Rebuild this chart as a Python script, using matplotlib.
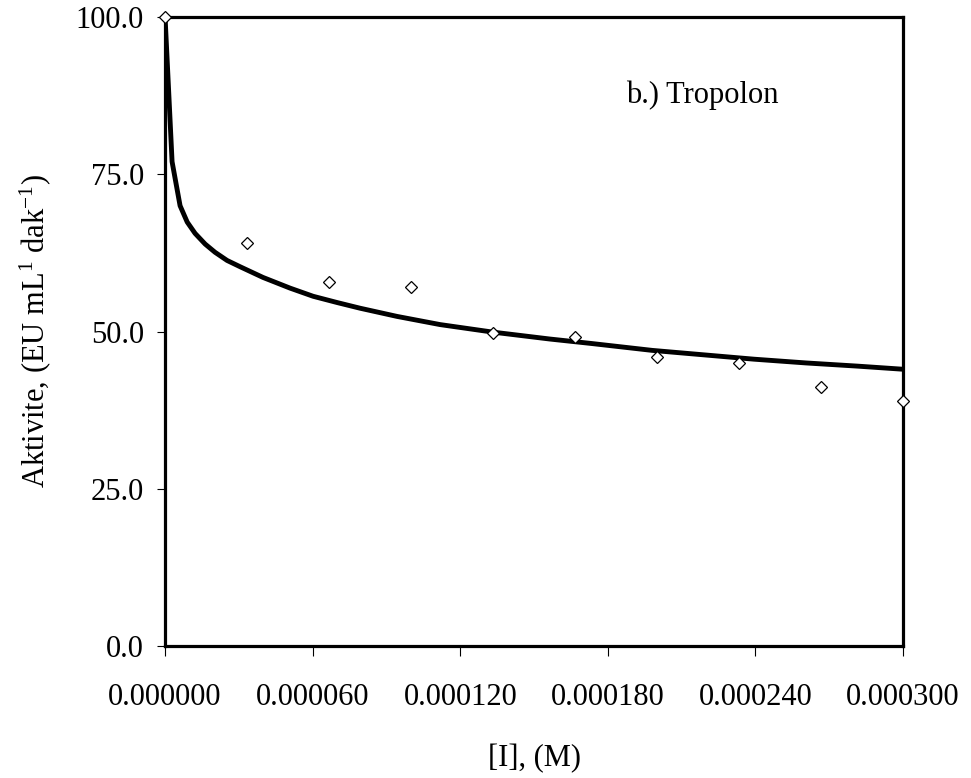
import matplotlib
matplotlib.use("Agg")
import matplotlib.pyplot as plt

plt.rcParams['font.family'] = ['Liberation Serif', 'DejaVu Serif']
plt.rcParams['mathtext.fontset'] = 'custom'
plt.rcParams['mathtext.rm'] = 'Liberation Serif'
plt.rcParams['mathtext.default'] = 'regular'

# measured points
conc = [0.0, 0.0000333, 0.0000667, 0.0001, 0.0001333, 0.0001667, 0.0002, 0.0002333, 0.0002667, 0.0003]
activity = [100.0, 64.1, 57.9, 57.1, 49.8, 49.1, 45.9, 45.0, 41.2, 39.0]

# fitted curve
fit_conc = [0.0, 0.00000285, 0.0000061, 0.000009, 0.0000122, 0.0000163, 0.0000203, 0.0000252,
            0.0000305, 0.0000398, 0.0000508, 0.0000602, 0.00007, 0.0000793, 0.0000943,
            0.0001118, 0.0001333, 0.0001565, 0.0001732, 0.000198, 0.0002187, 0.0002394,
            0.0002606, 0.0002813, 0.0003]
fit_activity = [100.0, 77.0, 70.0, 67.4, 65.6, 63.9, 62.6, 61.3, 60.3, 58.6, 56.9, 55.6,
                54.6, 53.7, 52.4, 51.1, 49.9, 48.8, 48.1, 47.0, 46.3, 45.6, 45.0, 44.5, 44.0]

xticks = [0.0, 0.00006, 0.00012, 0.00018, 0.00024, 0.0003]
yticks = [0, 25, 50, 75, 100]

fig = plt.figure(figsize=(9.71, 7.78), dpi=100)
ax = fig.add_axes([0.170, 0.1697, 0.760, 0.8084])

ax.plot(fit_conc, fit_activity, color='black', linewidth=3.5, zorder=2)
ax.plot(conc, activity, linestyle='none', marker='D', markersize=6.5,
        markerfacecolor='white', markeredgecolor='black', markeredgewidth=0.9,
        clip_on=False, zorder=3)

ax.set_xlim(0, 0.0003)
ax.set_ylim(0, 100)
ax.set_xticks(xticks)
ax.set_xticklabels(['%.6f' % v for v in xticks])
ax.set_yticks(yticks)
ax.set_yticklabels(['%.1f' % v for v in yticks])

for s in ax.spines.values():
    s.set_linewidth(2.3)
ax.tick_params(axis='x', direction='out', length=7.2, width=0.8, pad=19.4, labelsize=22)
ax.tick_params(axis='y', direction='out', length=5.8, width=0.8, pad=9.5, labelsize=22)

ax.set_xlabel('[I], (M)', fontsize=22)
ax.xaxis.set_label_coords(0.5, -0.155)
ax.set_ylabel('Aktivite, (EU mL$^{1}$ dak$^{-1}$)', fontsize=22)
ax.yaxis.set_label_coords(-0.152, 0.5)

ax.text(0.625, 0.863, 'b.) Tropolon', transform=ax.transAxes, fontsize=22,
        ha='left', va='baseline')

fig.savefig('out.png', dpi=100)
